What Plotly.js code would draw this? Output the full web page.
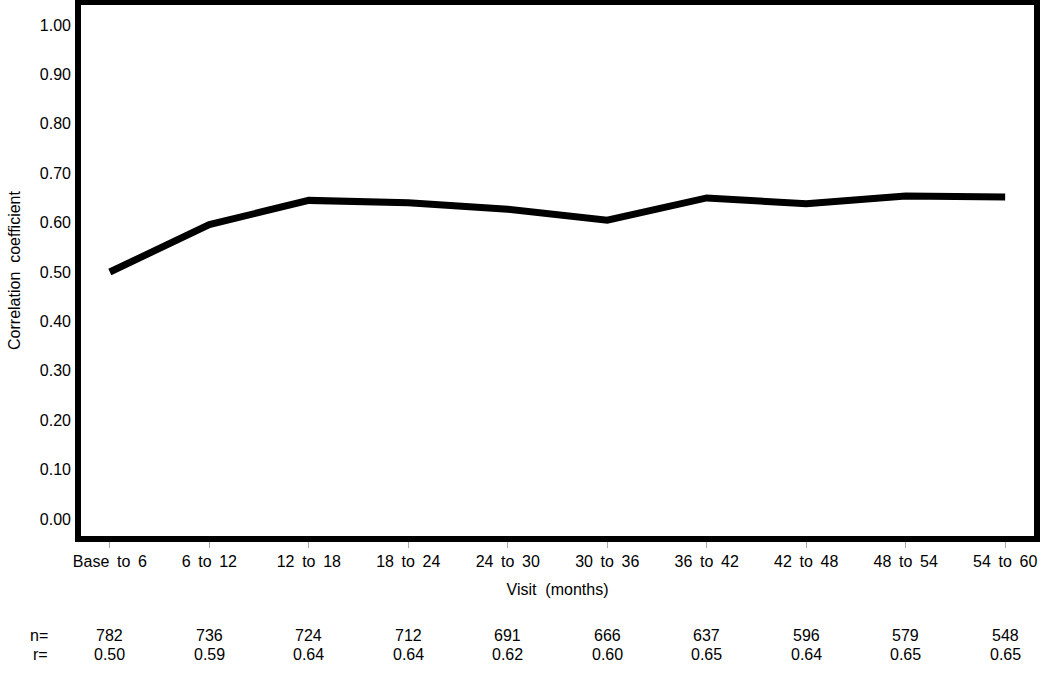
<!DOCTYPE html>
<html>
<head>
<meta charset="utf-8">
<script src="https://cdn.plot.ly/plotly-3.0.1.min.js"></script>
<style>
  body { margin: 0; background: #fff; }
  #graph { width: 1050px; height: 700px; }
</style>
</head>
<body>
<div id="graph"></div>
<script>
// Visit windows on the x axis (wide word gaps like the original)
const sp = ' \u2009';
const visits = ['Base to 6', '6 to 12', '12 to 18', '18 to 24', '24 to 30',
                '30 to 36', '36 to 42', '42 to 48', '48 to 54', '54 to 60'];
// Correlation
const corr = [0.500, 0.596, 0.645, 0.640, 0.627, 0.605, 0.650, 0.638, 0.654, 0.652];
// Table rows under the chart
const nValues = ['782', '736', '724', '712', '691', '666', '637', '596', '579', '548'];
const rValues = ['0.50', '0.59', '0.64', '0.64', '0.62', '0.60', '0.65', '0.64', '0.65', '0.65'];
const yTicks = [0, 0.1, 0.2, 0.3, 0.4, 0.5, 0.6, 0.7, 0.8, 0.9, 1.0];

const font = { family: 'Liberation Sans, Arial, sans-serif', size: 16, color: '#000' };

const trace = {
    x: visits.map((v, i) => i),
    y: corr,
    type: 'scatter',
    mode: 'lines',
    line: { color: '#000', width: 7 },
    hoverinfo: 'skip'
};

// n= / r= rows drawn as annotations under each category
const rowN = -0.179, rowR = -0.216;
const notes = [];
notes.push({ text: 'n=', x: 0, xref: 'paper', xanchor: 'right', xshift: -28,
             y: rowN, yref: 'paper', yanchor: 'middle', showarrow: false, font: font });
notes.push({ text: 'r=', x: 0, xref: 'paper', xanchor: 'right', xshift: -28,
             y: rowR, yref: 'paper', yanchor: 'middle', showarrow: false, font: font });
visits.forEach((v, i) => {
    notes.push({ text: nValues[i], x: i, xref: 'x', xanchor: 'center',
                 y: rowN, yref: 'paper', yanchor: 'middle', showarrow: false, font: font });
    notes.push({ text: rValues[i], x: i, xref: 'x', xanchor: 'center',
                 y: rowR, yref: 'paper', yanchor: 'middle', showarrow: false, font: font });
});

const layout = {
    width: 1050,
    height: 700,
    margin: { l: 78, r: 13, t: 2, b: 161 },
    paper_bgcolor: '#fff',
    plot_bgcolor: '#fff',
    showlegend: false,
    font: font,
    xaxis: {
        range: [-0.32, 9.32],
        tickvals: visits.map((v, i) => i),
        ticktext: visits.map(v => v.split(' ').join(sp)),
        ticks: 'outside',
        ticklen: 8,
        tickcolor: '#aaa',
        tickwidth: 1,
        showgrid: false,
        zeroline: false,
        showline: false,
        tickfont: font,
        title: { text: 'Visit\u00a0\u00a0(months)', font: font, standoff: 14 },
        automargin: false
    },
    yaxis: {
        range: [-0.0405, 1.0466],
        tickvals: yTicks,
        tickformat: '.2f',
        ticks: '',
        ticklabelstandoff: 6,
        showgrid: false,
        zeroline: false,
        showline: false,
        tickfont: font,
        title: { text: 'Correlation\u00a0\u00a0coefficient', font: font, standoff: 15 },
        automargin: false
    },
    // thick black frame around the plot area
    shapes: [{
        type: 'rect', xref: 'paper', yref: 'paper',
        x0: 0, x1: 1, y0: 0, y1: 1,
        line: { color: '#000', width: 6 }
    }],
    annotations: notes
};

Plotly.newPlot('graph', [trace], layout, { staticPlot: true });
</script>
</body>
</html>
